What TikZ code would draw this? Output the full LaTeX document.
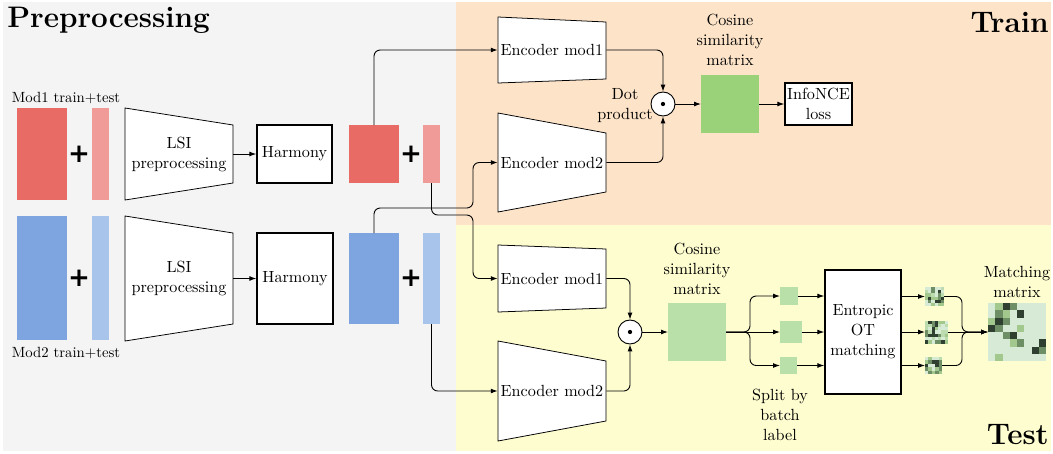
\documentclass[tikz,border=0pt]{standalone}
\usepackage{amsmath}
\usepackage{xcolor}
\usepackage{fontspec}
\newfontfamily\plusfont{DejaVu Sans}
\usetikzlibrary{calc}
\usetikzlibrary{arrows.meta}
\definecolor{prebg}{HTML}{F4F4F4}
\definecolor{trainbg}{HTML}{FDE4C9}
\definecolor{testbg}{HTML}{FEFDD0}
\definecolor{redA}{HTML}{E96B66}
\definecolor{redB}{HTML}{F19B98}
\definecolor{blueA}{HTML}{7EA5DF}
\definecolor{blueB}{HTML}{A8C4EB}
\definecolor{greenA}{HTML}{9AD27A}
\definecolor{greenB}{HTML}{B8E0A8}
\definecolor{pc0}{HTML}{D6EAD6}
\definecolor{pc1}{HTML}{D6EAD6}
\definecolor{pc2}{HTML}{BCDCB0}
\definecolor{pc3}{HTML}{A2C88E}
\definecolor{pc4}{HTML}{6E8E66}
\definecolor{pc5}{HTML}{2F3F30}
\tikzset{txt/.style={font={\fontsize{10.5}{13}\selectfont}, align=center, inner sep=1pt}}
\tikzset{trap/.style={draw, fill=white, line width=0.5pt}}
\tikzset{trapin/.style={txt, minimum width=70.2pt, inner sep=0pt}}
\tikzset{box/.style={txt, draw, line width=0.9pt, fill=white}}
\tikzset{blk/.style={inner sep=0pt, outer sep=0pt}}
\tikzset{plus/.style={font={\plusfont\bfseries\fontsize{17}{17}\selectfont}, inner sep=0pt}}
\tikzset{dotop/.style={circle, draw, line width=0.6pt, fill=white, minimum size=15.6pt, inner sep=0pt}}
\tikzset{title/.style={font={\fontsize{19.3}{22}\selectfont\bfseries}, inner sep=0pt}}
\tikzset{conn/.style={->, line width=0.6pt, rounded corners=4pt}}

\begin{document}
\begin{tikzpicture}[x=0.65pt, y=-0.65pt, >={Latex[length=4.5pt,width=3.2pt]}]
    \useasboundingbox (0,0) rectangle (1053,453);
    \fill[prebg] (3,2) rectangle (456,451);
    \fill[trainbg] (456,2) rectangle (1051,225);
    \fill[testbg] (456,225) rectangle (1051,451);

    \node[title, anchor=west] at (7,20) (prelbl){Preprocessing};
    \node[title, anchor=east] at (1049,22) (trainlbl){Train};
    \node[title, anchor=east] at (1049,435) (testlbl){Test};

    \draw[trap] (125,108) -- (233,125) -- (233,183) -- (125,200) -- cycle;
    \draw[trap] (125,216) -- (233,233) -- (233,324) -- (125,341) -- cycle;
    \draw[trap] (498,17) -- (606,22) -- (606,79) -- (498,83) -- cycle;
    \draw[trap] (498,113) -- (606,133) -- (606,192) -- (498,212) -- cycle;
    \draw[trap] (498,245) -- (606,249) -- (606,308) -- (498,312) -- cycle;
    \draw[trap] (498,341) -- (606,361) -- (606,421) -- (498,441) -- cycle;

    \node[txt, font={\fontsize{9.6}{11}\selectfont}] at (66,98) (inAlbl){Mod1 train+test};
    \node[blk, fill=redA, minimum width=32.5pt, minimum height=59.8pt] at (42,154) (inA){};
    \node[plus] at (79,154) (inAp){+};
    \node[blk, fill=redB, minimum width=11.05pt, minimum height=59.8pt] at (100.5,154) (inAs){};
    \node[trapin] at (179,154) (lsiA){LSI\\preprocessing};
    \node[box, minimum width=48.75pt, minimum height=37.7pt] at (294.5,154) (harA){Harmony};
    \node[blk, fill=redA, minimum width=32.5pt, minimum height=37.7pt] at (374,154) (embA){};
    \node[plus] at (411,154) (embAp){+};
    \node[blk, fill=redB, minimum width=11.05pt, minimum height=37.7pt] at (431.5,154) (embAs){};

    \node[txt, font={\fontsize{9.6}{11}\selectfont}] at (66,353) (inBlbl){Mod2 train+test};
    \node[blk, fill=blueA, minimum width=32.5pt, minimum height=80.6pt] at (42,278) (inB){};
    \node[plus] at (79,278) (inBp){+};
    \node[blk, fill=blueB, minimum width=11.05pt, minimum height=80.6pt] at (100.5,278) (inBs){};
    \node[trapin] at (179,278.5) (lsiB){LSI\\preprocessing};
    \node[box, minimum width=49.4pt, minimum height=59.15pt] at (295,278.5) (harB){Harmony};
    \node[blk, fill=blueA, minimum width=32.5pt, minimum height=59.15pt] at (374,278.5) (embB){};
    \node[plus] at (411,278.5) (embBp){+};
    \node[blk, fill=blueB, minimum width=11.05pt, minimum height=59.15pt] at (431.5,278.5) (embBs){};

    \node[trapin] at (552,50) (encTA){Encoder mod1};
    \node[trapin] at (552,162.5) (encTB){Encoder mod2};
    \node[dotop] at (663,104) (dotT){};
    \fill (dotT) circle (1.4pt);
    \node[txt] at (625,106) (dotlbl){Dot\\product};
    \node[blk, fill=greenA, minimum size=37.7pt] at (730,104) (simT){};
    \node[txt] at (730,40) (simTlbl){Cosine\\similarity\\matrix};
    \node[box, minimum width=43.55pt, minimum height=27.3pt] at (818.5,104) (lossT){InfoNCE\\loss};

    \node[trapin] at (552,278.5) (encSA){Encoder mod1};
    \node[trapin] at (552,391) (encSB){Encoder mod2};
    \node[dotop] at (630,332) (dotS){};
    \fill (dotS) circle (1.4pt);
    \node[blk, fill=greenB, minimum size=37.7pt] at (697,332) (simS){};
    \node[txt] at (697,269) (simSlbl){Cosine\\similarity\\matrix};
    \node[blk, fill=greenB, minimum size=11.7pt] at (789,296) (batA){};
    \node[blk, fill=greenB, minimum size=14.3pt] at (791,332) (batB){};
    \node[blk, fill=greenB, minimum size=11.05pt] at (788.5,365.5) (batC){};
    \node[txt] at (780,415) (batlbl){Split by\\batch\\label};
    \node[box, minimum width=49.4pt, minimum height=80.6pt] at (863,332) (ot){Entropic\\OT\\matching};
    \node[blk, fill=pc0, minimum size=12.35pt] at (934.5,296.5) (pmA){};
    \node[blk, fill=pc0, minimum size=14.95pt] at (936.5,332) (pmB){};
    \node[blk, fill=pc0, minimum size=11.05pt] at (933.5,365.5) (pmC){};
    \node[blk, fill=pc0, minimum size=37.7pt] at (1017,332) (match){};
    \node[txt] at (1017,282) (matchlbl){Matching\\matrix};

    \pgfmathsetseed{42}
    \foreach \xo/\yo/\sz/\nc in {925/287/19/6, 925/320.5/23/7, 925/357/17/5} {
      \pgfmathsetmacro{\cw}{\sz/\nc}
      \foreach \i in {1,...,\nc} {
        \foreach \j in {1,...,\nc} {
          \pgfmathrandominteger{\pv}{0}{5}
          \fill[fill=pc\pv] (\xo+\i*\cw-\cw, \yo+\j*\cw-\cw) rectangle ++(\cw,\cw);
        }
      }
    }
    \foreach \i/\j/\c in {1/0/pc3, 2/0/pc5, 3/0/pc4, 1/1/pc4, 2/1/pc3, 4/1/pc5,
      0/2/pc3, 1/2/pc5, 2/2/pc4, 0/3/pc5, 1/3/pc4, 4/3/pc3, 2/4/pc4, 3/4/pc5,
      3/5/pc3, 4/5/pc4, 7/5/pc5, 6/6/pc5, 7/6/pc4, 1/7/pc3}
      \fill[fill=\c] (988+\i*7.25, 303+\j*7.25) rectangle ++(7.25,7.25);

    \coordinate (jA) at (473,215);
    \coordinate (jB) at (473,208);
    \coordinate (spl) at (750,332);
    \coordinate (mrg) at (962,332);

    \draw[conn] (lsiA.east) -- (harA.west);
    \draw[conn] (lsiB.east) -- (harB.west);
    \draw[conn] (embA.north) |- (encTA.west);
    \draw[conn] (embAs.south) |- (jA) |- (encSA.west);
    \draw[conn] (embB.north) |- (jB) |- (encTB.west);
    \draw[conn] (embBs.south) |- (encSB.west);

    \draw[conn] (encTA.east) -| (dotT.north);
    \draw[conn] (encTB.east) -| (dotT.south);
    \draw[conn] (dotT.east) -- (simT.west);
    \draw[conn] (simT.east) -- (lossT.west);

    \draw[conn] (encSA.east) -| (dotS.north);
    \draw[conn] (encSB.east) -| (dotS.south);
    \draw[conn] (dotS.east) -- (simS.west);
    \draw[conn] (simS.east) -- (spl) |- (batA.west);
    \draw[conn] (simS.east) -- (batB.west);
    \draw[conn] (simS.east) -- (spl) |- (batC.west);
    \draw[conn] (batA.east) -- (batA.east -| ot.west);
    \draw[conn] (batB.east) -- (batB.east -| ot.west);
    \draw[conn] (batC.east) -- (batC.east -| ot.west);
    \draw[conn] (ot.east |- pmA.west) -- (pmA.west);
    \draw[conn] (ot.east |- pmB.west) -- (pmB.west);
    \draw[conn] (ot.east |- pmC.west) -- (pmC.west);
    \draw[conn] (pmA.east) -| (mrg) -- (match.west);
    \draw[conn] (pmB.east) -- (match.west);
    \draw[conn] (pmC.east) -| (mrg) -- (match.west);
\end{tikzpicture}
\end{document}
